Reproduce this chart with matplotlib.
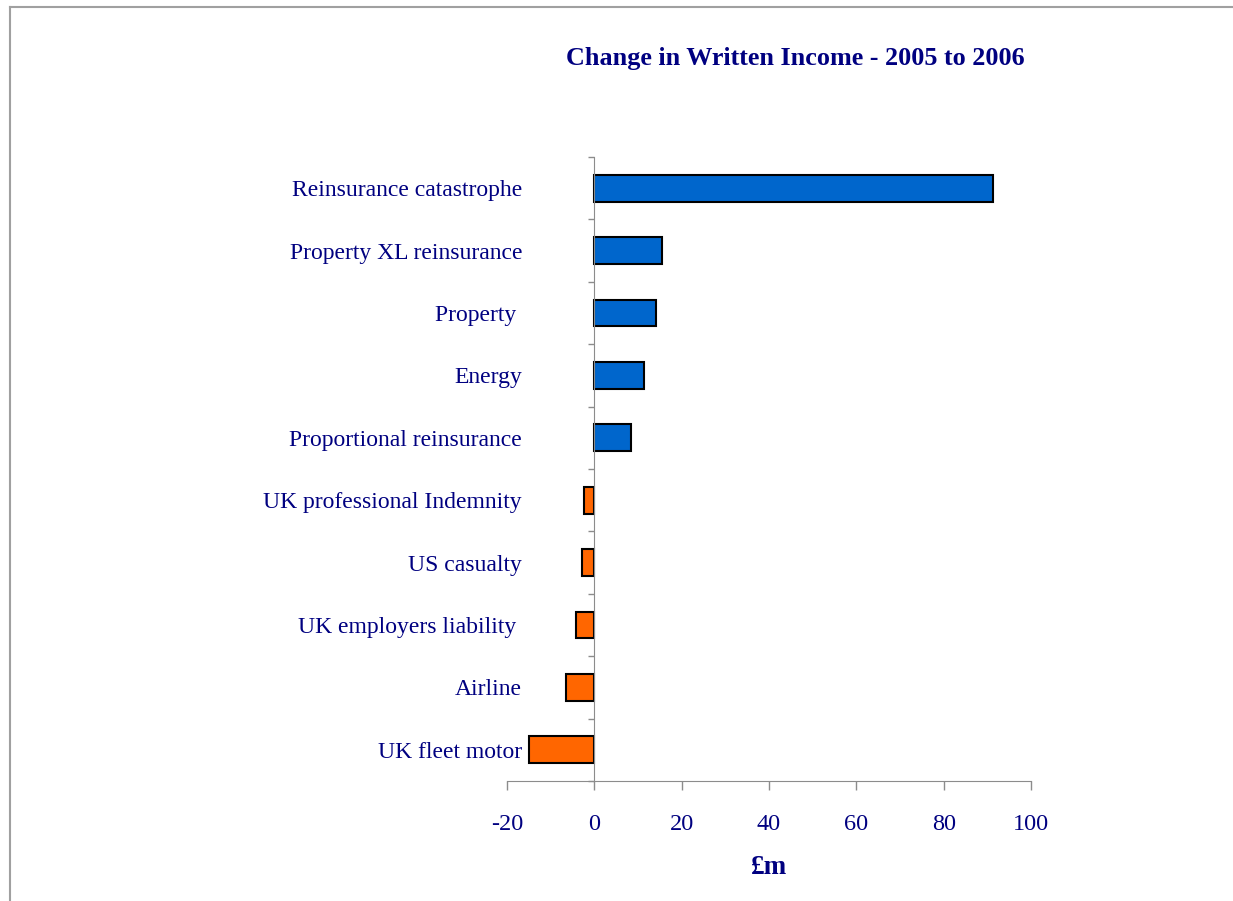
'''horizontal bar chart: change in written income by class, 2005 to 2006
'''
import matplotlib.pyplot as plt
from matplotlib.lines import Line2D
import numpy as np

NAVY = '#000080'
BLUE = '#0066CC'
ORANGE = '#FF6600'
GREY = '#8C8C8C'

# top to bottom as listed on the chart
classes = ['Reinsurance catastrophe', 'Property XL reinsurance', 'Property ',
           'Energy', 'Proportional reinsurance', 'UK professional Indemnity',
           'US casualty', 'UK employers liability ', 'Airline', 'UK fleet motor']
change = [91.3, 15.4, 14.1, 11.3, 8.5, -2.4, -2.8, -4.2, -6.5, -14.9]
x_ticks = [-20, 0, 20, 40, 60, 80, 100]

plt.rcParams['font.family'] = ['Liberation Serif', 'DejaVu Serif']

fig = plt.figure(figsize=(12.33, 9.01), dpi=100)
ax = fig.add_axes([0.4112, 0.1332, 0.425, 0.6925])

y = np.arange(len(classes))[::-1]
colors = [BLUE if v >= 0 else ORANGE for v in change]
ax.barh(y, change, height=0.43, color=colors, edgecolor='black',
        linewidth=1.5, zorder=3)

ax.set_xlim(-20, 100)
ax.set_ylim(-0.5, len(classes) - 0.5)

# category axis crosses at zero
for side in ['top', 'right']:
    ax.spines[side].set_visible(False)
ax.spines['left'].set_position(('data', 0))
ax.spines['left'].set_color(GREY)
ax.spines['bottom'].set_color(GREY)
ax.spines['left'].set_zorder(4)

ax.set_yticks(y)
ax.set_yticklabels(classes)
ax.set_yticks(np.arange(len(classes) + 1) - 0.5, minor=True)
ax.tick_params(axis='y', which='major', length=0, pad=52,
               labelsize=17, labelcolor=NAVY)
ax.tick_params(axis='y', which='minor', length=4.6, width=1, color=GREY)

ax.set_xticks(x_ticks)
ax.set_xticklabels([str(t) for t in x_ticks])
ax.tick_params(axis='x', length=6.5, width=1, color=GREY, pad=17,
               labelsize=17.5, labelcolor=NAVY)

ax.set_xlabel('£m', fontsize=19.5, fontweight='bold', color=NAVY, labelpad=15)
fig.text(0.645, 0.935, 'Change in Written Income - 2005 to 2006',
         ha='center', va='center', fontsize=18.8, fontweight='bold', color=NAVY)

# chart frame edge
fig.add_artist(Line2D([0.0081, 0.0081], [0, 0.9925], transform=fig.transFigure,
                      color='#A0A0A0', linewidth=1.5))
fig.add_artist(Line2D([0.0081, 1], [0.9925, 0.9925], transform=fig.transFigure,
                      color='#A0A0A0', linewidth=1.5))

plt.savefig('out.png', dpi=100)
